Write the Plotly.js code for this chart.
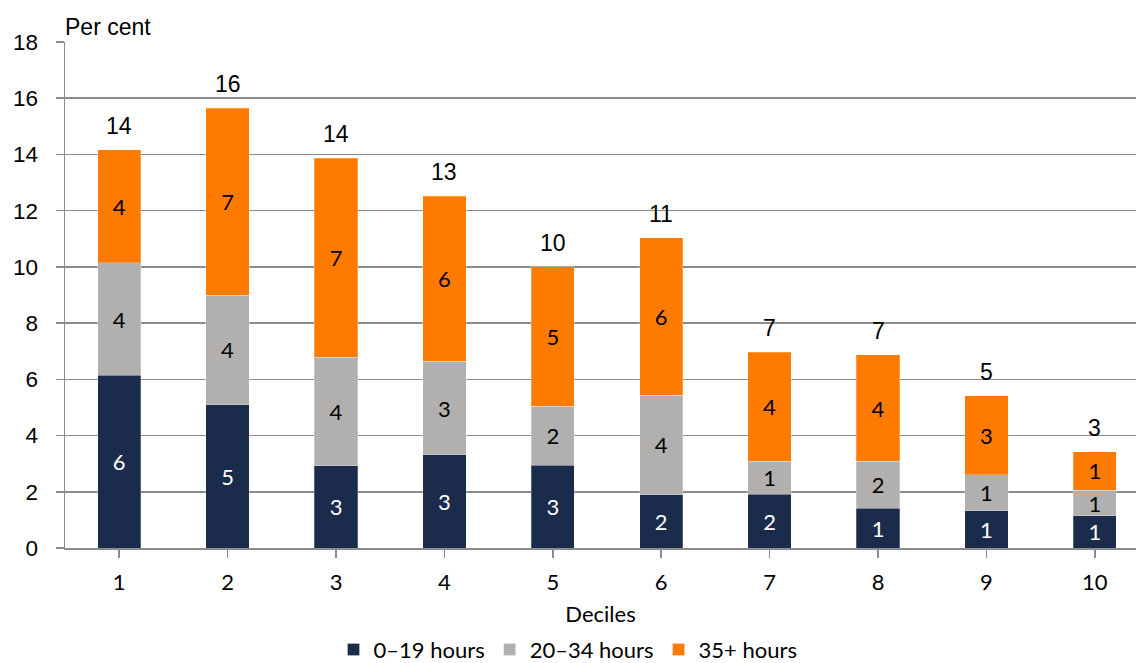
<!DOCTYPE html>
<html>
<head>
<meta charset="utf-8">
<script src="https://cdn.plot.ly/plotly-3.0.1.min.js"></script>
<style>html,body{margin:0;padding:0;background:#fff}#chart{width:1136px;height:663px}</style>
</head>
<body>
<div id="chart"></div>
<script>
const deciles = [1, 2, 3, 4, 5, 6, 7, 8, 9, 10];
const hours0to19 = [6.15, 5.09, 2.92, 3.31, 2.95, 1.89, 1.92, 1.42, 1.32, 1.14];
const hours20to34 = [3.99, 3.91, 3.87, 3.34, 2.10, 3.55, 1.17, 1.67, 1.28, 0.92];
const hours35plus = [4.02, 6.65, 7.08, 5.87, 4.95, 5.59, 3.88, 3.78, 2.81, 1.36];
const seriesNames = ['0–19 hours', '20–34 hours', '35+ hours'];
const yTicks = [0, 2, 4, 6, 8, 10, 12, 14, 16, 18];

const colors = ['#1b2b4b', '#b1b0ae', '#ff7b00'];
const textColors = ['#ffffff', '#000000', '#000000'];
const labelFont = 'Lato, "Open Sans", sans-serif';
const arialFont = '"Liberation Sans", Arial, sans-serif';

const seriesValues = [hours0to19, hours20to34, hours35plus];
const traces = seriesValues.map((vals, i) => ({
  type: 'bar',
  x: deciles,
  y: vals,
  name: seriesNames[i],
  marker: {color: colors[i], line: {color: 'rgba(255,255,255,0.5)', width: 0.5}},
  width: 0.4,
  text: vals.map(v => String(Math.round(v))),
  textposition: 'inside',
  insidetextanchor: 'middle',
  textangle: 0,
  constraintext: 'none',
  textfont: {family: labelFont, size: 22, color: textColors[i]},
  hoverinfo: 'skip'
}));

const totals = deciles.map((d, i) => hours0to19[i] + hours20to34[i] + hours35plus[i]);
const annotations = deciles.map((d, i) => ({
  x: d, y: totals[i], xref: 'x', yref: 'y',
  text: String(Math.round(totals[i])),
  showarrow: false, yanchor: 'bottom', yshift: 9,
  font: {family: arialFont, size: 23, color: '#000'}
}));
annotations.push({
  xref: 'paper', yref: 'paper', x: 0, y: 1, xanchor: 'left', yanchor: 'bottom',
  text: 'Per cent', showarrow: false, xshift: -2, yshift: 0,
  font: {family: arialFont, size: 23, color: '#000'}
});

const layout = {
  width: 1136, height: 663,
  margin: {l: 65, r: 0, t: 42, b: 115},
  paper_bgcolor: '#fff', plot_bgcolor: '#fff',
  barmode: 'stack',
  showlegend: true,
  legend: {
    orientation: 'h', xref: 'container', yref: 'container',
    x: 0.5, xanchor: 'center', y: 0.02, yanchor: 'middle',
    font: {family: labelFont, size: 22, color: '#000'},
    traceorder: 'normal', itemwidth: 30
  },
  xaxis: {
    range: [0.5, 10.38],
    tickmode: 'array', tickvals: deciles, ticktext: deciles.map(String),
    tickson: 'boundaries', ticks: 'outside', ticklen: 8, tickcolor: '#8c8c8c', tickwidth: 1.5,
    ticklabelstandoff: 6,
    showline: true, linecolor: '#8c8c8c', linewidth: 1.5,
    showgrid: false, zeroline: false,
    tickfont: {family: labelFont, size: 22, color: '#000'},
    title: {text: 'Deciles', standoff: 12, font: {family: labelFont, size: 22, color: '#000'}}
  },
  yaxis: {
    range: [0, 18], tickmode: 'array', tickvals: yTicks, ticktext: yTicks.map(String),
    ticks: 'outside', ticklen: 8, tickcolor: '#8c8c8c', tickwidth: 1.5,
    ticklabelstandoff: 13,
    showline: true, linecolor: '#8c8c8c', linewidth: 1.5,
    showgrid: true, gridcolor: '#8c8c8c', gridwidth: 1.5, zeroline: false,
    tickfont: {family: arialFont, size: 22.5, color: '#000'}
  },
  annotations: annotations
};

Plotly.newPlot('chart', traces, layout, {displayModeBar: false, staticPlot: true});
</script>
</body>
</html>
